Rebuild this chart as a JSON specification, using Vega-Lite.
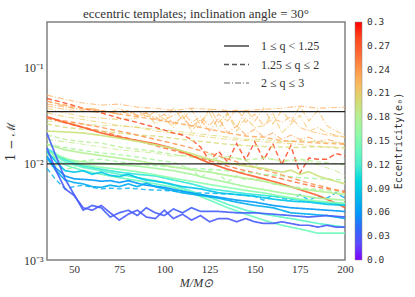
{
"$schema":"https://vega.github.io/schema/vega-lite/v6.json",
"width":298,"height":238,
"autosize":{"type":"none"},
"padding":{"left":47,"top":22,"right":70,"bottom":37},
"background":"white",
"config":{"view":{"stroke":"#808080","strokeWidth":1.5},"font":"Liberation Serif"},
"title":{"text":"eccentric templates;  inclination angle = 30°","font":"Liberation Serif","fontSize":13,"fontWeight":"normal","color":"#333","offset":-5,"anchor":"middle"},
"datasets":{
"lines":[
{"l":"E1","e":0.23,"q":"C"},{"l":"E2","e":0.22,"q":"C"},{"l":"E3","e":0.215,"q":"C"},{"l":"E4","e":0.2,"q":"C"},{"l":"E5","e":0.21,"q":"C"},{"l":"E6","e":0.235,"q":"C"},{"l":"E7","e":0.19,"q":"C"},{"l":"E8","e":0.225,"q":"C"},
{"l":"D1","e":0.285,"q":"B"},{"l":"D2","e":0.26,"q":"B"},{"l":"D3","e":0.18,"q":"B"},{"l":"D4","e":0.17,"q":"B"},{"l":"D5","e":0.2,"q":"B"},{"l":"D6","e":0.165,"q":"B"},{"l":"D7","e":0.07,"q":"B"},{"l":"D8","e":0.235,"q":"B"},{"l":"D9","e":0.245,"q":"B"},
{"l":"A1","e":0.265,"q":"A"},{"l":"G1","e":0.195,"q":"A"},{"l":"G2","e":0.18,"q":"A"},{"l":"G3","e":0.17,"q":"A"},{"l":"C1","e":0.11,"q":"A"},{"l":"C2","e":0.13,"q":"A"},{"l":"C3","e":0.14,"q":"A"},{"l":"C4","e":0.155,"q":"A"},{"l":"M1","e":0.06,"q":"A"},{"l":"M2","e":0.07,"q":"A"},{"l":"M3","e":0.085,"q":"A"},{"l":"B1","e":0.035,"q":"A"},{"l":"B2","e":0.03,"q":"A"}
],
"pts":[
{"l":"E1","x":35,"y":0.052},{"l":"E1","x":45,"y":0.047},{"l":"E1","x":55,"y":0.043},{"l":"E1","x":65,"y":0.041},{"l":"E1","x":75,"y":0.042},{"l":"E1","x":85,"y":0.039},{"l":"E1","x":95,"y":0.038},{"l":"E1","x":105,"y":0.036},{"l":"E1","x":115,"y":0.038},{"l":"E1","x":125,"y":0.037},{"l":"E1","x":135,"y":0.036},{"l":"E1","x":145,"y":0.036},{"l":"E1","x":155,"y":0.037},{"l":"E1","x":165,"y":0.038},{"l":"E1","x":175,"y":0.04},{"l":"E1","x":185,"y":0.038},{"l":"E1","x":200,"y":0.039},
{"l":"E2","x":35,"y":0.045},{"l":"E2","x":45,"y":0.04},{"l":"E2","x":55,"y":0.036},{"l":"E2","x":65,"y":0.034},{"l":"E2","x":75,"y":0.035},{"l":"E2","x":85,"y":0.032},{"l":"E2","x":95,"y":0.031},{"l":"E2","x":100,"y":0.027},{"l":"E2","x":105,"y":0.038},{"l":"E2","x":110,"y":0.029},{"l":"E2","x":115,"y":0.037},{"l":"E2","x":120,"y":0.025},{"l":"E2","x":125,"y":0.038},{"l":"E2","x":130,"y":0.027},{"l":"E2","x":135,"y":0.034},{"l":"E2","x":140,"y":0.024},{"l":"E2","x":145,"y":0.037},{"l":"E2","x":150,"y":0.028},{"l":"E2","x":155,"y":0.038},{"l":"E2","x":160,"y":0.026},{"l":"E2","x":165,"y":0.036},{"l":"E2","x":170,"y":0.027},{"l":"E2","x":175,"y":0.04},{"l":"E2","x":180,"y":0.028},{"l":"E2","x":185,"y":0.036},{"l":"E2","x":190,"y":0.025},{"l":"E2","x":195,"y":0.022},{"l":"E2","x":200,"y":0.02},
{"l":"E3","x":35,"y":0.038},{"l":"E3","x":45,"y":0.034},{"l":"E3","x":55,"y":0.031},{"l":"E3","x":65,"y":0.03},{"l":"E3","x":75,"y":0.029},{"l":"E3","x":85,"y":0.03},{"l":"E3","x":90,"y":0.034},{"l":"E3","x":95,"y":0.026},{"l":"E3","x":100,"y":0.03},{"l":"E3","x":105,"y":0.024},{"l":"E3","x":110,"y":0.032},{"l":"E3","x":115,"y":0.022},{"l":"E3","x":120,"y":0.028},{"l":"E3","x":125,"y":0.034},{"l":"E3","x":130,"y":0.023},{"l":"E3","x":135,"y":0.033},{"l":"E3","x":140,"y":0.022},{"l":"E3","x":145,"y":0.03},{"l":"E3","x":150,"y":0.024},{"l":"E3","x":155,"y":0.025},{"l":"E3","x":160,"y":0.034},{"l":"E3","x":165,"y":0.021},{"l":"E3","x":170,"y":0.026},{"l":"E3","x":175,"y":0.032},{"l":"E3","x":180,"y":0.022},{"l":"E3","x":185,"y":0.024},{"l":"E3","x":190,"y":0.021},{"l":"E3","x":195,"y":0.02},{"l":"E3","x":200,"y":0.019},
{"l":"E4","x":35,"y":0.028},{"l":"E4","x":45,"y":0.027},{"l":"E4","x":55,"y":0.026},{"l":"E4","x":65,"y":0.025},{"l":"E4","x":75,"y":0.025},{"l":"E4","x":85,"y":0.024},{"l":"E4","x":95,"y":0.023},{"l":"E4","x":105,"y":0.022},{"l":"E4","x":115,"y":0.021},{"l":"E4","x":125,"y":0.02},{"l":"E4","x":135,"y":0.019},{"l":"E4","x":145,"y":0.018},{"l":"E4","x":155,"y":0.018},{"l":"E4","x":165,"y":0.017},{"l":"E4","x":175,"y":0.0175},{"l":"E4","x":185,"y":0.017},{"l":"E4","x":200,"y":0.0165},
{"l":"E5","x":35,"y":0.034},{"l":"E5","x":45,"y":0.031},{"l":"E5","x":55,"y":0.029},{"l":"E5","x":65,"y":0.027},{"l":"E5","x":75,"y":0.025},{"l":"E5","x":85,"y":0.024},{"l":"E5","x":95,"y":0.022},{"l":"E5","x":105,"y":0.021},{"l":"E5","x":115,"y":0.02},{"l":"E5","x":125,"y":0.019},{"l":"E5","x":135,"y":0.018},{"l":"E5","x":145,"y":0.0175},{"l":"E5","x":155,"y":0.017},{"l":"E5","x":165,"y":0.0165},{"l":"E5","x":175,"y":0.016},{"l":"E5","x":185,"y":0.015},{"l":"E5","x":200,"y":0.015},
{"l":"E6","x":35,"y":0.042},{"l":"E6","x":50,"y":0.038},{"l":"E6","x":65,"y":0.036},{"l":"E6","x":75,"y":0.033},{"l":"E6","x":80,"y":0.036},{"l":"E6","x":85,"y":0.032},{"l":"E6","x":90,"y":0.034},{"l":"E6","x":95,"y":0.029},{"l":"E6","x":100,"y":0.033},{"l":"E6","x":105,"y":0.026},{"l":"E6","x":110,"y":0.031},{"l":"E6","x":115,"y":0.024},{"l":"E6","x":120,"y":0.029},{"l":"E6","x":125,"y":0.022},{"l":"E6","x":130,"y":0.03},{"l":"E6","x":135,"y":0.021},{"l":"E6","x":140,"y":0.025},{"l":"E6","x":145,"y":0.02},{"l":"E6","x":150,"y":0.023},{"l":"E6","x":155,"y":0.019},{"l":"E6","x":160,"y":0.021},{"l":"E6","x":165,"y":0.018},{"l":"E6","x":170,"y":0.02},{"l":"E6","x":175,"y":0.018},{"l":"E6","x":180,"y":0.019},{"l":"E6","x":185,"y":0.017},{"l":"E6","x":190,"y":0.018},{"l":"E6","x":200,"y":0.016},
{"l":"E7","x":35,"y":0.018},{"l":"E7","x":45,"y":0.017},{"l":"E7","x":55,"y":0.016},{"l":"E7","x":65,"y":0.015},{"l":"E7","x":75,"y":0.014},{"l":"E7","x":85,"y":0.0135},{"l":"E7","x":95,"y":0.013},{"l":"E7","x":105,"y":0.012},{"l":"E7","x":115,"y":0.0125},{"l":"E7","x":120,"y":0.011},{"l":"E7","x":125,"y":0.0128},{"l":"E7","x":130,"y":0.0105},{"l":"E7","x":135,"y":0.012},{"l":"E7","x":145,"y":0.011},{"l":"E7","x":150,"y":0.0092},{"l":"E7","x":155,"y":0.012},{"l":"E7","x":165,"y":0.0105},{"l":"E7","x":175,"y":0.011},{"l":"E7","x":185,"y":0.0098},{"l":"E7","x":195,"y":0.0085},{"l":"E7","x":200,"y":0.0075},
{"l":"E8","x":35,"y":0.04},{"l":"E8","x":45,"y":0.037},{"l":"E8","x":55,"y":0.035},{"l":"E8","x":60,"y":0.038},{"l":"E8","x":65,"y":0.036},{"l":"E8","x":70,"y":0.034},{"l":"E8","x":75,"y":0.038},{"l":"E8","x":80,"y":0.033},{"l":"E8","x":85,"y":0.036},{"l":"E8","x":90,"y":0.031},{"l":"E8","x":95,"y":0.035},{"l":"E8","x":100,"y":0.029},{"l":"E8","x":105,"y":0.032},{"l":"E8","x":110,"y":0.035},{"l":"E8","x":115,"y":0.027},{"l":"E8","x":120,"y":0.031},{"l":"E8","x":125,"y":0.025},{"l":"E8","x":130,"y":0.033},{"l":"E8","x":135,"y":0.028},{"l":"E8","x":140,"y":0.038},{"l":"E8","x":145,"y":0.027},{"l":"E8","x":150,"y":0.033},{"l":"E8","x":155,"y":0.025},{"l":"E8","x":160,"y":0.03},{"l":"E8","x":165,"y":0.027},{"l":"E8","x":170,"y":0.031},{"l":"E8","x":175,"y":0.024},{"l":"E8","x":180,"y":0.022},{"l":"E8","x":185,"y":0.021},{"l":"E8","x":190,"y":0.02},{"l":"E8","x":200,"y":0.019},
{"l":"D1","x":35,"y":0.048},{"l":"D1","x":45,"y":0.043},{"l":"D1","x":55,"y":0.038},{"l":"D1","x":65,"y":0.034},{"l":"D1","x":75,"y":0.03},{"l":"D1","x":85,"y":0.027},{"l":"D1","x":95,"y":0.024},{"l":"D1","x":105,"y":0.021},{"l":"D1","x":110,"y":0.02},{"l":"D1","x":115,"y":0.018},{"l":"D1","x":120,"y":0.015},{"l":"D1","x":125,"y":0.0108},{"l":"D1","x":130,"y":0.0135},{"l":"D1","x":135,"y":0.0105},{"l":"D1","x":140,"y":0.0163},{"l":"D1","x":145,"y":0.011},{"l":"D1","x":150,"y":0.017},{"l":"D1","x":155,"y":0.011},{"l":"D1","x":160,"y":0.0163},{"l":"D1","x":165,"y":0.0098},{"l":"D1","x":170,"y":0.0155},{"l":"D1","x":175,"y":0.008},{"l":"D1","x":180,"y":0.0115},{"l":"D1","x":185,"y":0.0112},{"l":"D1","x":190,"y":0.0112},{"l":"D1","x":195,"y":0.0128},{"l":"D1","x":200,"y":0.0122},
{"l":"D2","x":35,"y":0.03},{"l":"D2","x":45,"y":0.027},{"l":"D2","x":55,"y":0.024},{"l":"D2","x":65,"y":0.022},{"l":"D2","x":75,"y":0.0195},{"l":"D2","x":85,"y":0.0175},{"l":"D2","x":95,"y":0.0155},{"l":"D2","x":105,"y":0.0138},{"l":"D2","x":115,"y":0.0122},{"l":"D2","x":125,"y":0.0108},{"l":"D2","x":135,"y":0.0095},{"l":"D2","x":145,"y":0.0085},{"l":"D2","x":155,"y":0.0077},{"l":"D2","x":165,"y":0.007},{"l":"D2","x":175,"y":0.0063},{"l":"D2","x":185,"y":0.0057},{"l":"D2","x":200,"y":0.0052},
{"l":"D3","x":35,"y":0.02},{"l":"D3","x":45,"y":0.018},{"l":"D3","x":55,"y":0.017},{"l":"D3","x":65,"y":0.0165},{"l":"D3","x":75,"y":0.015},{"l":"D3","x":85,"y":0.0142},{"l":"D3","x":95,"y":0.0135},{"l":"D3","x":105,"y":0.0125},{"l":"D3","x":115,"y":0.0118},{"l":"D3","x":125,"y":0.0112},{"l":"D3","x":135,"y":0.0118},{"l":"D3","x":145,"y":0.011},{"l":"D3","x":155,"y":0.0115},{"l":"D3","x":165,"y":0.0108},{"l":"D3","x":175,"y":0.0112},{"l":"D3","x":185,"y":0.0105},{"l":"D3","x":200,"y":0.0098},
{"l":"D4","x":35,"y":0.016},{"l":"D4","x":45,"y":0.0148},{"l":"D4","x":55,"y":0.0138},{"l":"D4","x":65,"y":0.013},{"l":"D4","x":75,"y":0.0125},{"l":"D4","x":85,"y":0.0118},{"l":"D4","x":95,"y":0.011},{"l":"D4","x":105,"y":0.0104},{"l":"D4","x":110,"y":0.0095},{"l":"D4","x":115,"y":0.0088},{"l":"D4","x":120,"y":0.0072},{"l":"D4","x":125,"y":0.0085},{"l":"D4","x":130,"y":0.0078},{"l":"D4","x":135,"y":0.0065},{"l":"D4","x":140,"y":0.0075},{"l":"D4","x":145,"y":0.0068},{"l":"D4","x":150,"y":0.0071},{"l":"D4","x":160,"y":0.0062},{"l":"D4","x":170,"y":0.0058},{"l":"D4","x":180,"y":0.0055},{"l":"D4","x":190,"y":0.0053},{"l":"D4","x":200,"y":0.005},
{"l":"D5","x":35,"y":0.026},{"l":"D5","x":45,"y":0.024},{"l":"D5","x":55,"y":0.023},{"l":"D5","x":65,"y":0.022},{"l":"D5","x":75,"y":0.021},{"l":"D5","x":85,"y":0.02},{"l":"D5","x":95,"y":0.0195},{"l":"D5","x":105,"y":0.0185},{"l":"D5","x":115,"y":0.0175},{"l":"D5","x":125,"y":0.0168},{"l":"D5","x":135,"y":0.016},{"l":"D5","x":145,"y":0.0155},{"l":"D5","x":155,"y":0.0152},{"l":"D5","x":165,"y":0.015},{"l":"D5","x":175,"y":0.0148},{"l":"D5","x":185,"y":0.0152},{"l":"D5","x":200,"y":0.0145},
{"l":"D6","x":35,"y":0.0115},{"l":"D6","x":40,"y":0.0095},{"l":"D6","x":45,"y":0.0088},{"l":"D6","x":50,"y":0.0092},{"l":"D6","x":55,"y":0.0108},{"l":"D6","x":65,"y":0.0112},{"l":"D6","x":75,"y":0.0105},{"l":"D6","x":85,"y":0.01},{"l":"D6","x":95,"y":0.0096},{"l":"D6","x":105,"y":0.0092},{"l":"D6","x":115,"y":0.009},{"l":"D6","x":125,"y":0.0088},{"l":"D6","x":135,"y":0.0085},{"l":"D6","x":145,"y":0.0082},{"l":"D6","x":155,"y":0.0078},{"l":"D6","x":165,"y":0.0075},{"l":"D6","x":175,"y":0.0072},{"l":"D6","x":185,"y":0.007},{"l":"D6","x":200,"y":0.0068},
{"l":"D7","x":35,"y":0.009},{"l":"D7","x":40,"y":0.0068},{"l":"D7","x":45,"y":0.0055},{"l":"D7","x":50,"y":0.0058},{"l":"D7","x":55,"y":0.006},{"l":"D7","x":60,"y":0.0057},{"l":"D7","x":65,"y":0.0055},{"l":"D7","x":70,"y":0.0056},{"l":"D7","x":75,"y":0.0055},{"l":"D7","x":80,"y":0.0056},{"l":"D7","x":85,"y":0.0055},{"l":"D7","x":90,"y":0.0054},{"l":"D7","x":100,"y":0.0053},{"l":"D7","x":110,"y":0.0051},{"l":"D7","x":120,"y":0.005},{"l":"D7","x":130,"y":0.0049},{"l":"D7","x":140,"y":0.0048},{"l":"D7","x":145,"y":0.0047},{"l":"D7","x":150,"y":0.0046},{"l":"D7","x":155,"y":0.0042},{"l":"D7","x":160,"y":0.0047},{"l":"D7","x":165,"y":0.0044},{"l":"D7","x":170,"y":0.0042},{"l":"D7","x":175,"y":0.0048},{"l":"D7","x":180,"y":0.0042},{"l":"D7","x":185,"y":0.0046},{"l":"D7","x":190,"y":0.0044},{"l":"D7","x":195,"y":0.005},{"l":"D7","x":200,"y":0.0044},
{"l":"D8","x":35,"y":0.045},{"l":"D8","x":45,"y":0.041},{"l":"D8","x":55,"y":0.038},{"l":"D8","x":65,"y":0.036},{"l":"D8","x":75,"y":0.033},{"l":"D8","x":85,"y":0.031},{"l":"D8","x":95,"y":0.029},{"l":"D8","x":105,"y":0.027},{"l":"D8","x":115,"y":0.025},{"l":"D8","x":125,"y":0.023},{"l":"D8","x":135,"y":0.021},{"l":"D8","x":145,"y":0.0195},{"l":"D8","x":155,"y":0.019},{"l":"D8","x":165,"y":0.0175},{"l":"D8","x":175,"y":0.017},{"l":"D8","x":185,"y":0.0165},{"l":"D8","x":200,"y":0.016},
{"l":"D9","x":35,"y":0.03},{"l":"D9","x":50,"y":0.027},{"l":"D9","x":65,"y":0.024},{"l":"D9","x":80,"y":0.021},{"l":"D9","x":95,"y":0.018},{"l":"D9","x":110,"y":0.0155},{"l":"D9","x":125,"y":0.013},{"l":"D9","x":140,"y":0.0105},{"l":"D9","x":150,"y":0.0092},{"l":"D9","x":160,"y":0.0082},{"l":"D9","x":170,"y":0.0072},{"l":"D9","x":180,"y":0.0063},{"l":"D9","x":190,"y":0.0057},{"l":"D9","x":200,"y":0.005},
{"l":"A1","x":35,"y":0.031},{"l":"A1","x":45,"y":0.027},{"l":"A1","x":55,"y":0.024},{"l":"A1","x":65,"y":0.021},{"l":"A1","x":75,"y":0.019},{"l":"A1","x":85,"y":0.0175},{"l":"A1","x":95,"y":0.0162},{"l":"A1","x":105,"y":0.0145},{"l":"A1","x":115,"y":0.0122},{"l":"A1","x":125,"y":0.0102},{"l":"A1","x":135,"y":0.0088},{"l":"A1","x":145,"y":0.0078},{"l":"A1","x":155,"y":0.007},{"l":"A1","x":165,"y":0.0062},{"l":"A1","x":175,"y":0.0054},{"l":"A1","x":185,"y":0.0047},{"l":"A1","x":195,"y":0.0039},{"l":"A1","x":200,"y":0.0035},
{"l":"G1","x":35,"y":0.022},{"l":"G1","x":45,"y":0.0215},{"l":"G1","x":55,"y":0.021},{"l":"G1","x":65,"y":0.0198},{"l":"G1","x":75,"y":0.0185},{"l":"G1","x":85,"y":0.0172},{"l":"G1","x":95,"y":0.0158},{"l":"G1","x":105,"y":0.0145},{"l":"G1","x":115,"y":0.0128},{"l":"G1","x":125,"y":0.0112},{"l":"G1","x":135,"y":0.0102},{"l":"G1","x":145,"y":0.0095},{"l":"G1","x":155,"y":0.009},{"l":"G1","x":165,"y":0.0082},{"l":"G1","x":170,"y":0.0086},{"l":"G1","x":175,"y":0.0078},{"l":"G1","x":180,"y":0.0083},{"l":"G1","x":185,"y":0.0075},{"l":"G1","x":190,"y":0.007},{"l":"G1","x":200,"y":0.0062},
{"l":"G2","x":35,"y":0.016},{"l":"G2","x":45,"y":0.014},{"l":"G2","x":55,"y":0.013},{"l":"G2","x":65,"y":0.0122},{"l":"G2","x":75,"y":0.0115},{"l":"G2","x":85,"y":0.0108},{"l":"G2","x":95,"y":0.01},{"l":"G2","x":105,"y":0.0093},{"l":"G2","x":115,"y":0.0087},{"l":"G2","x":125,"y":0.0082},{"l":"G2","x":135,"y":0.0076},{"l":"G2","x":145,"y":0.0071},{"l":"G2","x":155,"y":0.0066},{"l":"G2","x":165,"y":0.006},{"l":"G2","x":175,"y":0.0055},{"l":"G2","x":185,"y":0.0052},{"l":"G2","x":200,"y":0.0048},
{"l":"G3","x":35,"y":0.0125},{"l":"G3","x":45,"y":0.0112},{"l":"G3","x":55,"y":0.0105},{"l":"G3","x":65,"y":0.0102},{"l":"G3","x":75,"y":0.0098},{"l":"G3","x":85,"y":0.0095},{"l":"G3","x":95,"y":0.009},{"l":"G3","x":105,"y":0.0085},{"l":"G3","x":115,"y":0.0078},{"l":"G3","x":125,"y":0.007},{"l":"G3","x":135,"y":0.0064},{"l":"G3","x":145,"y":0.0058},{"l":"G3","x":155,"y":0.0054},{"l":"G3","x":165,"y":0.005},{"l":"G3","x":175,"y":0.0047},{"l":"G3","x":185,"y":0.0044},{"l":"G3","x":200,"y":0.0042},
{"l":"C1","x":35,"y":0.0145},{"l":"C1","x":45,"y":0.011},{"l":"C1","x":55,"y":0.0095},{"l":"C1","x":65,"y":0.0088},{"l":"C1","x":75,"y":0.0082},{"l":"C1","x":85,"y":0.0078},{"l":"C1","x":95,"y":0.0075},{"l":"C1","x":105,"y":0.0068},{"l":"C1","x":115,"y":0.0062},{"l":"C1","x":125,"y":0.0055},{"l":"C1","x":135,"y":0.0052},{"l":"C1","x":145,"y":0.0049},{"l":"C1","x":155,"y":0.0047},{"l":"C1","x":165,"y":0.0045},{"l":"C1","x":175,"y":0.0042},{"l":"C1","x":185,"y":0.004},{"l":"C1","x":200,"y":0.0038},
{"l":"C2","x":35,"y":0.014},{"l":"C2","x":45,"y":0.0105},{"l":"C2","x":55,"y":0.0092},{"l":"C2","x":65,"y":0.0085},{"l":"C2","x":75,"y":0.0078},{"l":"C2","x":85,"y":0.0072},{"l":"C2","x":95,"y":0.0067},{"l":"C2","x":105,"y":0.006},{"l":"C2","x":115,"y":0.0052},{"l":"C2","x":125,"y":0.0045},{"l":"C2","x":135,"y":0.0038},{"l":"C2","x":145,"y":0.0033},{"l":"C2","x":155,"y":0.003},{"l":"C2","x":165,"y":0.0028},{"l":"C2","x":175,"y":0.0026},{"l":"C2","x":185,"y":0.0024},{"l":"C2","x":200,"y":0.0022},
{"l":"C3","x":35,"y":0.0128},{"l":"C3","x":45,"y":0.0098},{"l":"C3","x":55,"y":0.0085},{"l":"C3","x":65,"y":0.0078},{"l":"C3","x":75,"y":0.0072},{"l":"C3","x":85,"y":0.0067},{"l":"C3","x":95,"y":0.0062},{"l":"C3","x":105,"y":0.0057},{"l":"C3","x":115,"y":0.005},{"l":"C3","x":125,"y":0.0042},{"l":"C3","x":135,"y":0.0035},{"l":"C3","x":145,"y":0.003},{"l":"C3","x":155,"y":0.0026},{"l":"C3","x":165,"y":0.0023},{"l":"C3","x":175,"y":0.0021},{"l":"C3","x":185,"y":0.0019},{"l":"C3","x":200,"y":0.0019},
{"l":"C4","x":35,"y":0.0135},{"l":"C4","x":45,"y":0.0115},{"l":"C4","x":55,"y":0.0098},{"l":"C4","x":65,"y":0.0092},{"l":"C4","x":75,"y":0.0088},{"l":"C4","x":85,"y":0.0083},{"l":"C4","x":95,"y":0.0077},{"l":"C4","x":105,"y":0.0071},{"l":"C4","x":115,"y":0.0066},{"l":"C4","x":125,"y":0.0061},{"l":"C4","x":135,"y":0.0057},{"l":"C4","x":145,"y":0.0053},{"l":"C4","x":155,"y":0.005},{"l":"C4","x":165,"y":0.0046},{"l":"C4","x":175,"y":0.0043},{"l":"C4","x":185,"y":0.0041},{"l":"C4","x":200,"y":0.0039},
{"l":"M1","x":35,"y":0.012},{"l":"M1","x":40,"y":0.009},{"l":"M1","x":45,"y":0.0075},{"l":"M1","x":50,"y":0.007},{"l":"M1","x":55,"y":0.0069},{"l":"M1","x":60,"y":0.0068},{"l":"M1","x":65,"y":0.0066},{"l":"M1","x":70,"y":0.0067},{"l":"M1","x":75,"y":0.0064},{"l":"M1","x":80,"y":0.0067},{"l":"M1","x":85,"y":0.0063},{"l":"M1","x":90,"y":0.006},{"l":"M1","x":100,"y":0.0057},{"l":"M1","x":110,"y":0.0052},{"l":"M1","x":120,"y":0.0048},{"l":"M1","x":130,"y":0.0045},{"l":"M1","x":140,"y":0.0042},{"l":"M1","x":150,"y":0.004},{"l":"M1","x":160,"y":0.0037},{"l":"M1","x":170,"y":0.0035},{"l":"M1","x":180,"y":0.0034},{"l":"M1","x":190,"y":0.0033},{"l":"M1","x":200,"y":0.0032},
{"l":"M2","x":35,"y":0.0115},{"l":"M2","x":40,"y":0.0085},{"l":"M2","x":45,"y":0.0068},{"l":"M2","x":50,"y":0.0064},{"l":"M2","x":55,"y":0.0062},{"l":"M2","x":60,"y":0.0058},{"l":"M2","x":65,"y":0.0057},{"l":"M2","x":70,"y":0.006},{"l":"M2","x":75,"y":0.0058},{"l":"M2","x":80,"y":0.0062},{"l":"M2","x":85,"y":0.0058},{"l":"M2","x":90,"y":0.0063},{"l":"M2","x":95,"y":0.0058},{"l":"M2","x":100,"y":0.0055},{"l":"M2","x":110,"y":0.005},{"l":"M2","x":120,"y":0.0047},{"l":"M2","x":130,"y":0.0044},{"l":"M2","x":140,"y":0.004},{"l":"M2","x":150,"y":0.0037},{"l":"M2","x":160,"y":0.0035},{"l":"M2","x":170,"y":0.0031},{"l":"M2","x":180,"y":0.003},{"l":"M2","x":190,"y":0.0029},{"l":"M2","x":200,"y":0.0027},
{"l":"M3","x":35,"y":0.0135},{"l":"M3","x":40,"y":0.0105},{"l":"M3","x":45,"y":0.0085},{"l":"M3","x":50,"y":0.0082},{"l":"M3","x":55,"y":0.0085},{"l":"M3","x":60,"y":0.0078},{"l":"M3","x":65,"y":0.0082},{"l":"M3","x":70,"y":0.0076},{"l":"M3","x":75,"y":0.0074},{"l":"M3","x":80,"y":0.0078},{"l":"M3","x":85,"y":0.0072},{"l":"M3","x":90,"y":0.0068},{"l":"M3","x":100,"y":0.0064},{"l":"M3","x":110,"y":0.0058},{"l":"M3","x":120,"y":0.0055},{"l":"M3","x":130,"y":0.005},{"l":"M3","x":140,"y":0.0048},{"l":"M3","x":150,"y":0.0046},{"l":"M3","x":160,"y":0.0043},{"l":"M3","x":170,"y":0.0041},{"l":"M3","x":180,"y":0.004},{"l":"M3","x":190,"y":0.0038},{"l":"M3","x":200,"y":0.0037},
{"l":"B1","x":35,"y":0.0208},{"l":"B1","x":40,"y":0.012},{"l":"B1","x":45,"y":0.007},{"l":"B1","x":50,"y":0.0048},{"l":"B1","x":55,"y":0.0033},{"l":"B1","x":60,"y":0.0037},{"l":"B1","x":65,"y":0.0035},{"l":"B1","x":70,"y":0.0028},{"l":"B1","x":75,"y":0.0031},{"l":"B1","x":80,"y":0.0033},{"l":"B1","x":85,"y":0.0029},{"l":"B1","x":90,"y":0.0035},{"l":"B1","x":95,"y":0.0031},{"l":"B1","x":100,"y":0.0029},{"l":"B1","x":105,"y":0.0034},{"l":"B1","x":110,"y":0.0031},{"l":"B1","x":115,"y":0.0035},{"l":"B1","x":120,"y":0.0032},{"l":"B1","x":125,"y":0.0032},{"l":"B1","x":130,"y":0.0032},{"l":"B1","x":140,"y":0.0031},{"l":"B1","x":150,"y":0.0031},{"l":"B1","x":160,"y":0.003},{"l":"B1","x":170,"y":0.0029},{"l":"B1","x":180,"y":0.0028},{"l":"B1","x":190,"y":0.0029},{"l":"B1","x":200,"y":0.0028},
{"l":"B2","x":35,"y":0.0146},{"l":"B2","x":40,"y":0.0085},{"l":"B2","x":45,"y":0.0055},{"l":"B2","x":50,"y":0.0047},{"l":"B2","x":55,"y":0.0035},{"l":"B2","x":60,"y":0.0033},{"l":"B2","x":65,"y":0.0037},{"l":"B2","x":70,"y":0.0031},{"l":"B2","x":75,"y":0.0026},{"l":"B2","x":80,"y":0.003},{"l":"B2","x":85,"y":0.0033},{"l":"B2","x":90,"y":0.0028},{"l":"B2","x":95,"y":0.0027},{"l":"B2","x":100,"y":0.0033},{"l":"B2","x":105,"y":0.0027},{"l":"B2","x":110,"y":0.003},{"l":"B2","x":115,"y":0.0026},{"l":"B2","x":120,"y":0.0029},{"l":"B2","x":125,"y":0.0025},{"l":"B2","x":130,"y":0.0027},{"l":"B2","x":135,"y":0.0027},{"l":"B2","x":140,"y":0.0025},{"l":"B2","x":145,"y":0.0027},{"l":"B2","x":150,"y":0.0025},{"l":"B2","x":155,"y":0.0024},{"l":"B2","x":160,"y":0.0024},{"l":"B2","x":165,"y":0.0025},{"l":"B2","x":170,"y":0.0024},{"l":"B2","x":175,"y":0.0023},{"l":"B2","x":180,"y":0.0023},{"l":"B2","x":185,"y":0.0022},{"l":"B2","x":190,"y":0.0023},{"l":"B2","x":195,"y":0.0022},{"l":"B2","x":200,"y":0.0022}
],
"hl":[{"h":0.035},{"h":0.01}]
},
"resolve":{"axis":{"x":"independent","y":"independent"}},
"layer":[
{"data":{"name":"pts"},
 "transform":[{"lookup":"l","from":{"data":{"name":"lines"},"key":"l","fields":["e","q"]}}],
 "mark":{"type":"line"},
 "encoding":{
  "x":{"field":"x","type":"quantitative","scale":{"domain":[35,200],"nice":false,"zero":false},
   "axis":{"orient":"bottom","values":[40,45,50,55,60,65,70,75,80,85,90,95,100,105,110,115,120,125,130,135,140,145,150,155,160,165,170,175,180,185,190,195,200],
    "labelExpr":"datum.value % 25 === 0 ? datum.label : ''","tickSize":0,"domain":false,"grid":false,"labelFlush":false,"labelOverlap":false,
    "labelFont":"Liberation Serif","labelFontSize":11,"labelColor":"#333","labelPadding":3,"tickColor":"#333",
    "title":"M/M⊙","titleFont":"Liberation Serif","titleFontStyle":"italic","titleFontWeight":"normal","titleFontSize":12,"titleColor":"#333","titlePadding":3,
    "encode":{"ticks":{"update":{"y2":{"signal":"datum.value % 25 === 0 ? -7 : -4"}}}}}},
  "y":{"field":"y","type":"quantitative","scale":{"type":"log","domain":[0.001,0.3],"nice":false},
   "axis":{"orient":"left","values":[0.001,0.002,0.003,0.004,0.005,0.006,0.007,0.008,0.009,0.01,0.02,0.03,0.04,0.05,0.06,0.07,0.08,0.09,0.1,0.2,0.3],
    "labelExpr":"datum.value == 0.1 ? '10⁻¹' : datum.value == 0.01 ? '10⁻²' : datum.value == 0.001 ? '10⁻³' : ''","tickSize":0,"domain":false,"grid":false,"labelFlush":false,"labelOverlap":false,
    "labelFont":"Liberation Serif","labelFontSize":12,"labelColor":"#333","labelPadding":4,"tickColor":"#333",
    "title":"1 − ℳ","titleFont":"DejaVu Serif","titleFontWeight":"normal","titleFontSize":12,"titleColor":"#333","titlePadding":6,
    "encode":{"ticks":{"update":{"x2":{"signal":"indexof([0.001,0.01,0.1], datum.value) >= 0 ? 8 : 4"}}}}}},
  "detail":{"field":"l"},
  "color":{"field":"e","type":"quantitative",
   "scale":{"domain":[0,0.0375,0.075,0.1125,0.15,0.1875,0.225,0.2625,0.3],"range":["#8000ff","#4062fa","#00b4eb","#40ebd4","#80ffb4","#bfeb8e","#ffb462","#ff6232","#ff0000"]},
   "legend":{"type":"gradient","direction":"vertical","orient":"right","offset":6,"padding":0,"gradientLength":238,"gradientThickness":7,"gradientStrokeColor":"#888","gradientStrokeWidth":0.5,
    "values":[0,0.03,0.06,0.09,0.12,0.15,0.18,0.21,0.24,0.27,0.3],"labelExpr":"datum.value == 0 ? '0.0' : format(datum.value, '.2~f')",
    "labelFont":"DejaVu Sans Mono","labelFontSize":9.5,"labelColor":"#333","labelOffset":5,"labelOverlap":false,
    "title":"Eccentricity(e₀)","titleFont":"DejaVu Sans Mono","titleFontSize":10,"titleFontWeight":"normal","titleColor":"#333","titleOrient":"right","titleAnchor":"middle","titlePadding":4,
    "encode":{"labels":{"update":{"baseline":{"value":"middle"}}},"title":{"update":{"angle":{"value":-90},"baseline":{"value":"top"}}}}}},
  "strokeDash":{"field":"q","type":"nominal","scale":{"domain":["A","B","C"],"range":[[1,0],[5,3],[6,2,1,2]]},
   "legend":{"orient":"none","legendX":176,"legendY":16,"title":null,"padding":0,"symbolType":"stroke","symbolSize":625,"symbolStrokeColor":"#333","symbolStrokeWidth":1.5,"symbolOpacity":1,
    "clipHeight":16,"rowPadding":2.5,"labelOffset":11,"labelFont":"Liberation Serif","labelFontSize":12,"labelColor":"#333",
    "labelExpr":"datum.label == 'A' ? '1 ≤ q < 1.25' : datum.label == 'B' ? '1.25 ≤ q ≤ 2' : '2 ≤ q ≤ 3'"}},
  "strokeWidth":{"field":"q","type":"nominal","scale":{"domain":["A","B","C"],"range":[1.7,1.1,0.8]},"legend":null},
  "opacity":{"field":"q","type":"nominal","scale":{"domain":["A","B","C"],"range":[0.9,0.72,0.55]},"legend":null}
 }},
{"data":{"name":"hl"},
 "mark":{"type":"rule","color":"#222","strokeWidth":1.3},
 "encoding":{"y":{"field":"h","type":"quantitative","axis":null}}},
{"data":{"name":"pts"},
 "mark":{"type":"point","opacity":0},
 "encoding":{
  "x":{"field":"x","type":"quantitative",
   "axis":{"orient":"top","values":[40,45,50,55,60,65,70,75,80,85,90,95,100,105,110,115,120,125,130,135,140,145,150,155,160,165,170,175,180,185,190,195,200],
    "labels":false,"tickSize":0,"domain":false,"grid":false,"title":null,"tickColor":"#333",
    "encode":{"ticks":{"update":{"y2":{"signal":"datum.value % 25 === 0 ? 7 : 4"}}}}}},
  "y":{"field":"y","type":"quantitative",
   "axis":{"orient":"right","values":[0.001,0.002,0.003,0.004,0.005,0.006,0.007,0.008,0.009,0.01,0.02,0.03,0.04,0.05,0.06,0.07,0.08,0.09,0.1,0.2,0.3],
    "labels":false,"tickSize":0,"domain":false,"grid":false,"title":null,"tickColor":"#333",
    "encode":{"ticks":{"update":{"x2":{"signal":"indexof([0.001,0.01,0.1], datum.value) >= 0 ? -8 : -4"}}}}}}
 }}
]
}
